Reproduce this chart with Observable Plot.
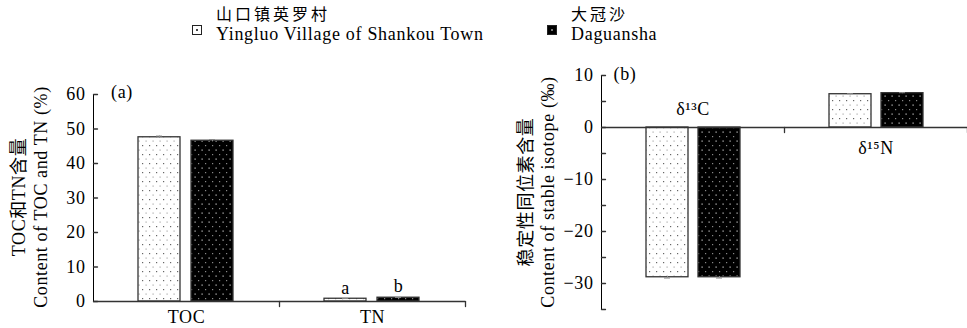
<!DOCTYPE html>
<html><head><meta charset="utf-8">
<script src="https://cdn.jsdelivr.net/npm/d3@7"></script>
<script src="https://cdn.jsdelivr.net/npm/@observablehq/plot@0.6"></script>
<style>
body{margin:0;background:#fff;}
#root{position:relative;width:967px;height:328px;overflow:hidden;font-family:"Liberation Serif","Noto Sans CJK SC",serif;}
#root svg{position:absolute;top:0;}
</style></head><body>
<svg width="0" height="0" style="position:absolute">
<defs>
<pattern id="dotsLight" width="7" height="9" patternUnits="userSpaceOnUse">
<rect width="7" height="9" fill="#fff"/>
<rect x="1" y="1" width="1.2" height="1.2" fill="#666"/>
<rect x="4.5" y="5.5" width="1.2" height="1.2" fill="#aaa"/>
</pattern>
<pattern id="dotsDark" width="7" height="9" patternUnits="userSpaceOnUse">
<rect width="7" height="9" fill="#000"/>
<rect x="1" y="1" width="1.2" height="1.2" fill="#888"/>
<rect x="4.5" y="5.5" width="1.2" height="1.2" fill="#ccc"/>
</pattern>
</defs></svg>
<div id="root"></div>
<script>
// ---- data ----
const seriesNames = ["Yingluo Village of Shankou Town", "Daguansha"];
const seriesNamesZh = ["山口镇英罗村", "大冠沙"];
const seriesFills = ["url(#dotsLight)", "url(#dotsDark)"];

const categoriesA = ["TOC", "TN"];
const yingluoA = [47.6, 0.8];
const daguanshaA = [46.6, 1.1];
const errYingluoA = [0.35, 0.05];
const errDaguanshaA = [0.35, 0.05];
const lettersYingluoA = ["", "a"];
const lettersDaguanshaA = ["", "b"];
const ticksA = [0, 10, 20, 30, 40, 50, 60];

const categoriesB = ["d13C", "d15N"];
const labelsB = ["δ¹³C", "δ¹⁵N"];
const yingluoB = [-28.8, 6.4];
const daguanshaB = [-28.8, 6.6];
const errYingluoB = [0.15, 0.1];
const errDaguanshaB = [0.15, 0.1];
const ticksB = [-35, -30, -25, -20, -15, -10, -5, 0, 5, 10];
const labeledTicksB = [-30, -20, -10, 0, 10];

// ---- tables ----
function rows(cats, ys, ds, ey, ed, ly, ld) {
  const out = [];
  cats.forEach((c, i) => {
    out.push({cat: c, series: seriesNames[0], value: ys[i], err: ey[i], letter: ly ? ly[i] : ""});
    out.push({cat: c, series: seriesNames[1], value: ds[i], err: ed[i], letter: ld ? ld[i] : ""});
  });
  return out;
}
const rowsA = rows(categoriesA, yingluoA, daguanshaA, errYingluoA, errDaguanshaA, lettersYingluoA, lettersDaguanshaA);
const rowsB = rows(categoriesB, yingluoB, daguanshaB, errYingluoB, errDaguanshaB);
const catRowsB = categoriesB.map((c, i) => ({cat: c, label: labelsB[i], sign: Math.sign(yingluoB[i] + daguanshaB[i])}));

const fmtMinus = d => d < 0 ? "\u2212" + (-d) : String(d);
const tickDown = {draw(ctx, l) { ctx.moveTo(0, 0); ctx.lineTo(0, l); }};
const tickRight = {draw(ctx, l) { ctx.moveTo(0, 0); ctx.lineTo(l, 0); }};
const baseStyle = {fontFamily: '"Liberation Serif", "Noto Sans CJK SC", serif', fontSize: "18px", letterSpacing: "0.6px", background: "transparent", overflow: "visible", color: "#000"};
const xBand = {domain: seriesNames, paddingInner: 0.2, paddingOuter: 0.85, axis: null};
const colorScale = {domain: seriesNames, range: seriesFills};

function commonMarks(data, cats, yTicks) {
  return [
    Plot.barY(data, {fx: "cat", x: "series", y: "value", fill: "series", stroke: "#333", strokeWidth: 1.3}),
    Plot.ruleX(data, {fx: "cat", x: "series", y1: d => d.value - d.err, y2: d => d.value + d.err, stroke: "#888"}),
    Plot.tickY(data, {fx: "cat", x: "series", y: d => d.value < 0 ? d.value - d.err : d.value + d.err, stroke: "#888", insetLeft: 18, insetRight: 18}),
    Plot.ruleY([0], {stroke: "#333", strokeWidth: 1.3}),
    Plot.vector(cats, {fx: d => d, y: () => 0, frameAnchor: "right", length: 5, anchor: "start", shape: tickDown, stroke: "#333", strokeWidth: 1.3}),
    Plot.vector(yTicks, {fx: () => cats[0], y: d => d, frameAnchor: "left", length: 4, anchor: "start", shape: tickRight, stroke: "#333", strokeWidth: 1.3})
  ];
}

// ---- panel (a) ----
const chartA = Plot.plot({
  width: 480, height: 328,
  marginLeft: 92, marginRight: 15, marginTop: 94, marginBottom: 27,
  style: baseStyle,
  fx: {domain: categoriesA, padding: 0, tickSize: 0, tickPadding: 9, label: null, axis: "bottom"},
  x: xBand,
  y: {domain: [0, 60], ticks: ticksA, tickSize: 0, tickPadding: 8, line: true, label: null},
  color: colorScale,
  marks: [
    ...commonMarks(rowsA, categoriesA, ticksA),
    Plot.text(rowsA, {fx: "cat", x: "series", y: "value", text: "letter", dy: -11})
  ]
});

// ---- panel (b) ----
const chartB = Plot.plot({
  width: 487, height: 328,
  marginLeft: 121, marginRight: 0, marginTop: 75, marginBottom: 19,
  style: baseStyle,
  fx: {domain: categoriesB, padding: 0, axis: null},
  x: xBand,
  y: {domain: [-35, 10], ticks: labeledTicksB, tickFormat: fmtMinus, tickSize: 0, tickPadding: 8, line: true, label: null},
  color: colorScale,
  marks: [
    ...commonMarks(rowsB, categoriesB, ticksB),
    Plot.text(catRowsB, {filter: d => d.sign < 0, fx: "cat", y: () => 0, text: "label", dy: -18}),
    Plot.text(catRowsB, {filter: d => d.sign > 0, fx: "cat", y: () => 0, text: "label", dy: 21})
  ]
});

const root = document.getElementById("root");
chartA.style.left = "0px";
chartB.style.left = "480px";
root.appendChild(chartA);
root.appendChild(chartB);

// axis titles & panel tags
function addTitle(svg, x, y, text) {
  d3.select(svg).append("text")
    .attr("transform", `translate(${x},${y}) rotate(-90)`)
    .attr("text-anchor", "middle").attr("fill", "#000").text(text);
}
addTitle(chartA, 25, 197, "TOC和TN含量");
addTitle(chartA, 47, 197, "Content of TOC and TN (%)");
addTitle(chartB, 52, 192, "稳定性同位素含量");
addTitle(chartB, 74, 192, "Content of stable isotope (‰)");
d3.select(chartA).append("text").attr("x", 122).attr("y", 98).attr("text-anchor", "middle").text("(a)");
d3.select(chartB).append("text").attr("x", 145).attr("y", 80).attr("text-anchor", "middle").text("(b)");

// legend
const leg = d3.select(root).append("svg").attr("width", 967).attr("height", 50)
  .style("font-family", '"Liberation Serif", "Noto Sans CJK SC", serif');
const legX = [192, 547];
seriesNames.forEach((s, i) => {
  const g = leg.append("g").attr("transform", `translate(${legX[i]},0)`);
  g.append("rect").attr("x", 0.5).attr("y", 25.5).attr("width", 9).attr("height", 9)
    .attr("fill", i === 0 ? "#fff" : "#000").attr("stroke", "#222");
  g.append("rect").attr("x", 4).attr("y", 29).attr("width", 2).attr("height", 2).attr("fill", i === 0 ? "#444" : "#777");
  g.append("text").attr("x", 24).attr("y", 20).style("font-size", "16px").style("letter-spacing", "3px").text(seriesNamesZh[i]);
  g.append("text").attr("x", 24).attr("y", 40).style("font-size", "18px").style("letter-spacing", "0.7px").text(s);
});
</script>
</body></html>
